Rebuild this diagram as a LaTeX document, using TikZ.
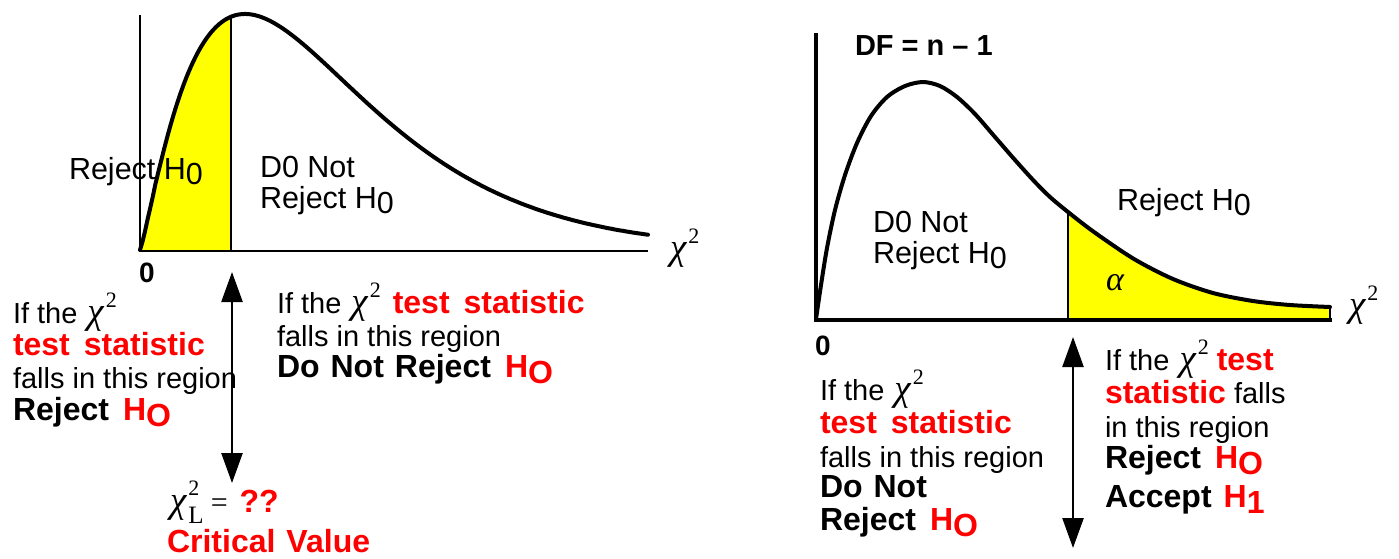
\documentclass[tikz,border=0pt]{standalone}
\usepackage[no-math]{fontspec}
\setmainfont{Liberation Sans}
\newfontfamily\serifrm{Liberation Serif}
\usetikzlibrary{arrows.meta}
\definecolor{hred}{RGB}{255,0,0}
\definecolor{hyel}{RGB}{255,255,0}
\newcommand{\nf}{\fontsize{29}{33}\selectfont}
\newcommand{\cf}{\fontsize{30.5}{34}\selectfont}
\newcommand{\bfnt}{\fontsize{32}{34}\selectfont\bfseries}
\newcommand{\rb}[1]{\textcolor{hred}{\bfnt #1}}
\newcommand{\HOred}{\textcolor{hred}{\bfnt H\raisebox{-6pt}{O}}}
\newcommand{\Hzero}{H\raisebox{-5pt}{0}}
\newcommand{\chisq}{{\serifrm\fontsize{37}{37}\selectfont\itshape χ\hspace{2pt}\raisebox{16pt}{\upshape\fontsize{22}{22}\selectfont 2}}}
\newcommand{\chisqL}{{\serifrm\fontsize{37}{37}\selectfont\itshape χ\hspace{2pt}\rlap{\raisebox{17pt}{\upshape\fontsize{22}{22}\selectfont 2}}\raisebox{-11pt}{\upshape\fontsize{25}{25}\selectfont L}\hspace{7pt}\upshape\fontsize{30}{30}\selectfont =}}
\newcommand{\wsp}{\hspace{14pt}}
\tikzset{
  txt/.style={anchor=base west, inner sep=0pt, outer sep=0pt, font=\nf},
  ctxt/.style={anchor=base west, inner sep=0pt, outer sep=0pt, font=\cf},
  btxt/.style={anchor=base west, inner sep=0pt, outer sep=0pt, font=\bfnt},
  curve/.style={line width=4pt, line join=round, line cap=round},
  thinaxis/.style={line width=2.2pt},
  thickaxis/.style={line width=4.5pt},
  divider/.style={line width=2pt},
  dblarrow/.style={line width=2.5pt, {Triangle[length=30pt,width=21pt]}-{Triangle[length=30pt,width=21pt]}}
}
\begin{document}
\begin{tikzpicture}[x=1pt,y=-1pt]
\useasboundingbox (0,0) rectangle (1399,558);
% ---------------- left chart ----------------
\fill[hyel] (140,250) -- plot[domain=140.01:231, samples=80] (\x, {250-236*pow((\x-140)/105,1.21)*exp(1.21*(1-(\x-140)/105))}) -- (231,250) -- cycle;
\coordinate (lv0) at (231,17);
\coordinate (lv1) at (231,251);
\draw[divider] (lv0) -- (lv1);
\coordinate (lax0) at (140,15);
\coordinate (lax1) at (140,251);
\coordinate (lax2) at (648,251);
\draw[thinaxis] (lax0) -- (lax1) -- (lax2);
\draw[curve] plot[domain=140.01:648, samples=200] (\x, {250-236*pow((\x-140)/105,1.21)*exp(1.21*(1-(\x-140)/105))});
\node[ctxt] (lrej) at (69,179) {Reject \Hzero};
\node[ctxt] (ldn1) at (260,177) {D0 Not};
\node[ctxt] (ldn2) at (260,208) {Reject \Hzero};
\node[btxt, font=\fontsize{28}{30}\selectfont\bfseries] (lzero) at (139,282) {0};
\node[anchor=base west, inner sep=0pt] (lchi) at (670,259) {\chisq};
% left bottom texts
\node[txt] (a1) at (13,323) {If the\hspace{10pt}\chisq};
\node[btxt] (a2) at (13,355) {\textcolor{hred}{test\wsp statistic}};
\node[txt] (a3) at (13,388) {falls in this region};
\node[btxt] (a4) at (13,420) {Reject\wsp\HOred};
\node[txt] (b1) at (277,313) {If the\hspace{10pt}\chisq\hspace{12pt}\rb{test\wsp statistic}};
\node[txt] (b2) at (277,346) {falls in this region};
\node[btxt] (b3) at (277,377) {Do\hspace{11pt}Not\hspace{11pt}Reject\wsp\HOred};
\coordinate (la0) at (232,272);
\coordinate (la1) at (232,483);
\draw[dblarrow] (la0) -- (la1);
\node[anchor=base west, inner sep=0pt] (crit1) at (170,512) {\chisqL\hspace{12pt}\rb{??}};
\node[btxt] (crit2) at (167,552) {\textcolor{hred}{Critical\hspace{11pt}Value}};
% ---------------- right chart ----------------
\def\rcurve{(816,319) (821,285) (827,248) (835,210) (845,175) (857,143) (871,116) (887,97) (905,86) (923,82) (940,86) (957,97) (975,114) (995,137) (1015,160) (1034,181) (1050,197) (1068,212) (1094,232) (1134,259) (1173,279) (1213,293) (1253,301) (1290,305) (1330,307)}
\begin{scope}
\clip (1068,0) rectangle (1331,320);
\fill[hyel] plot[smooth] coordinates {\rcurve} -- (1330,320) -- (816,320) -- cycle;
\end{scope}
\coordinate (rv0) at (1068,212);
\coordinate (rv1) at (1068,320);
\draw[divider] (rv0) -- (rv1);
\coordinate (re0) at (1330,307);
\coordinate (re1) at (1330,320);
\draw[line width=1.5pt] (re0) -- (re1);
\coordinate (rax0) at (816,33);
\coordinate (rax1) at (816,320);
\coordinate (rax2) at (1332,320);
\draw[thickaxis] (rax0) -- (rax1) -- (rax2);
\draw[curve] plot[smooth] coordinates {\rcurve};
\node[btxt, font=\fontsize{29}{30}\selectfont\bfseries] (df) at (855,55) {DF = n -- 1};
\node[ctxt] (rdn1) at (873,232) {D0 Not};
\node[ctxt] (rdn2) at (873,263) {Reject \Hzero};
\node[ctxt] (rrej) at (1117,210) {Reject \Hzero};
\node[anchor=base west, inner sep=0pt] (ralpha) at (1106,290) {\serifrm\fontsize{34}{34}\selectfont\itshape α};
\node[anchor=base west, inner sep=0pt] (rchi) at (1349,316) {\chisq};
\node[btxt, font=\fontsize{28}{30}\selectfont\bfseries] (rzero) at (815,355) {0};
\coordinate (ra0) at (1073,337);
\coordinate (ra1) at (1073,548);
\draw[dblarrow] (ra0) -- (ra1);
\node[txt] (c1) at (820,400) {If the\hspace{10pt}\chisq};
\node[btxt] (c2) at (820,433) {\textcolor{hred}{test\wsp statistic}};
\node[txt] (c3) at (820,467) {falls in this region};
\node[btxt] (c4) at (820,497) {Do\hspace{11pt}Not};
\node[btxt] (c5) at (820,530) {Reject\wsp\HOred};
\node[txt] (d1) at (1105,370) {If the\hspace{10pt}\chisq\hspace{8pt}\rb{test}};
\node[txt] (d2) at (1105,403) {\rb{statistic} falls};
\node[txt] (d3) at (1105,437) {in this region};
\node[btxt] (d4) at (1105,468) {Reject\wsp\HOred};
\node[btxt] (d5) at (1105,507) {Accept\hspace{12pt}\textcolor{hred}{H\raisebox{-6pt}{1}}};
\end{tikzpicture}
\end{document}
